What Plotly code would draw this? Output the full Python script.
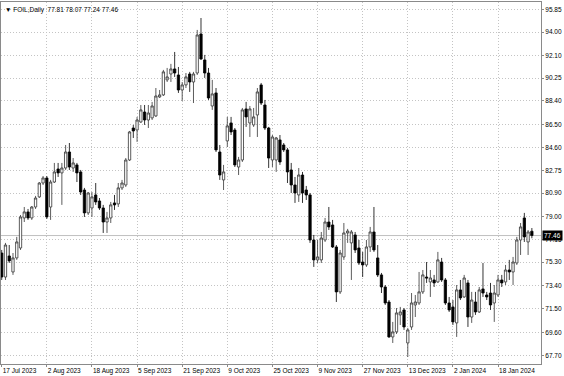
import plotly.graph_objects as go

# ---- data ----
symbol = "FOIL,Daily"

tick_labels = ["17 Jul 2023", "2 Aug 2023", "18 Aug 2023", "5 Sep 2023", "21 Sep 2023",
               "9 Oct 2023", "25 Oct 2023", "9 Nov 2023", "27 Nov 2023", "13 Dec 2023",
               "2 Jan 2024", "18 Jan 2024"]
bars_per_label = 12

price_ticks = [95.85, 94.00, 92.10, 90.25, 88.40, 86.50, 84.60, 82.75, 80.90, 79.00,
               77.15, 75.30, 73.40, 71.50, 69.60, 67.70]

opens = [
    76.04, 74.09, 75.80, 74.50, 75.64, 76.45, 78.89, 79.38, 78.89, 79.78,
    80.60, 81.73, 82.14, 79.78, 81.81, 82.87, 82.55, 82.95, 84.25, 82.95,
    83.20, 82.63, 81.16, 79.30, 79.70, 80.76, 80.27, 79.70, 78.56, 78.89,
    80.11, 80.03, 81.33, 81.57, 83.60, 86.20, 86.04, 86.69, 87.50, 86.85,
    87.02, 87.18, 88.72, 88.89, 90.11, 90.59, 91.00, 90.51, 89.29, 89.70,
    90.59, 89.94, 90.67, 93.84, 91.73, 90.67, 87.99, 89.05, 84.25, 81.98,
    85.15, 86.61, 86.04, 83.03, 83.60, 87.75, 86.61, 86.45, 87.26, 89.70,
    88.07, 86.20, 83.60, 83.60, 85.23, 84.82, 84.42, 82.79, 81.57, 80.76,
    82.38, 81.16, 80.76, 77.10, 75.48, 75.48, 77.10, 78.56, 78.32, 76.53,
    72.88, 75.72, 77.67, 76.86, 77.51, 76.45, 75.31, 75.07, 76.53, 77.75,
    75.64, 74.26, 73.28, 72.06, 69.22, 69.63, 71.01, 71.41, 68.73, 70.03,
    71.82, 71.98, 72.88, 74.09, 73.69, 73.85, 73.69, 75.31, 73.85, 71.98,
    71.66, 70.36, 73.04, 72.47, 73.61, 70.84, 72.06, 71.25, 73.12, 72.63,
    72.79, 71.98, 72.63, 73.85, 73.69, 74.66, 74.50, 75.23, 77.10, 78.89,
    76.94, 77.81]

highs = [
    76.29, 76.86, 76.69, 76.04, 77.35, 79.13, 79.78, 79.62, 79.86, 80.68,
    81.81, 82.30, 82.30, 81.98, 83.36, 83.36, 83.36, 84.82, 84.98, 83.76,
    83.36, 82.79, 81.33, 81.00, 81.00, 81.73, 80.51, 79.95, 79.38, 80.19,
    80.76, 81.73, 81.98, 83.76, 85.96, 86.45, 87.10, 88.07, 88.07, 88.07,
    88.32, 89.45, 89.29, 90.92, 91.08, 91.41, 92.38, 91.16, 89.94, 90.67,
    90.76, 90.76, 94.17, 95.14, 92.14, 91.08, 90.11, 89.45, 84.82, 83.20,
    87.10, 87.10, 86.20, 83.85, 87.83, 88.32, 87.99, 87.83, 89.45, 89.86,
    88.48, 86.29, 85.63, 85.47, 85.63, 84.98, 84.58, 83.36, 82.22, 82.95,
    82.63, 81.49, 80.92, 77.51, 77.10, 77.75, 78.89, 79.78, 78.73, 76.69,
    76.29, 78.48, 78.00, 77.91, 77.75, 77.10, 76.13, 77.10, 78.16, 79.78,
    76.69, 74.42, 73.44, 72.22, 70.44, 71.57, 71.66, 71.57, 69.95, 72.79,
    72.63, 74.50, 74.66, 75.31, 74.66, 74.26, 76.13, 75.64, 74.01, 72.47,
    72.22, 73.44, 73.85, 74.26, 73.85, 72.88, 72.88, 73.28, 75.23, 72.88,
    73.61, 73.44, 74.26, 74.26, 75.07, 75.48, 75.72, 77.35, 78.48, 79.30,
    77.91, 78.07]

lows = [
    73.85, 73.85, 75.23, 74.26, 75.48, 76.29, 78.56, 78.73, 78.73, 79.62,
    80.51, 81.57, 78.81, 78.73, 81.73, 82.22, 79.95, 82.79, 82.79, 82.63,
    81.81, 80.76, 78.97, 79.13, 78.97, 79.95, 79.54, 77.67, 77.67, 78.48,
    79.54, 79.78, 81.16, 81.41, 83.52, 85.39, 85.07, 86.61, 86.45, 86.20,
    86.85, 87.10, 88.64, 88.80, 89.94, 89.94, 90.35, 89.05, 88.40, 89.45,
    89.13, 88.23, 90.51, 91.73, 90.27, 88.48, 87.67, 84.25, 81.98, 81.16,
    84.66, 85.63, 83.03, 82.38, 83.44, 86.29, 85.47, 86.29, 85.47, 88.07,
    86.04, 82.95, 83.03, 82.63, 83.20, 84.25, 81.73, 80.92, 80.11, 80.19,
    80.11, 80.35, 76.86, 74.91, 75.23, 75.23, 76.94, 77.91, 76.45, 72.06,
    72.71, 75.48, 76.86, 73.85, 76.04, 75.07, 74.09, 74.91, 76.13, 76.13,
    74.09, 72.79, 71.82, 69.14, 68.73, 69.46, 70.19, 69.79, 67.59, 69.79,
    70.84, 71.82, 72.71, 73.61, 72.47, 73.28, 73.61, 73.69, 71.82, 71.25,
    70.19, 69.22, 72.22, 72.39, 70.03, 70.36, 71.01, 71.17, 72.47, 72.22,
    71.41, 70.44, 72.47, 73.28, 73.44, 73.85, 73.44, 75.07, 75.88, 76.94,
    75.88, 77.24]

closes = [
    74.09, 76.69, 75.40, 75.64, 76.94, 78.97, 79.38, 78.89, 79.78, 80.51,
    81.73, 82.14, 78.97, 81.81, 82.63, 82.55, 82.95, 84.25, 83.03, 83.36,
    82.55, 81.00, 79.30, 80.92, 80.60, 80.19, 79.70, 78.56, 78.89, 79.95,
    79.95, 81.33, 81.73, 83.60, 85.88, 85.96, 86.85, 87.67, 86.85, 87.42,
    87.99, 88.80, 88.89, 90.76, 90.35, 91.00, 90.67, 89.29, 89.70, 90.35,
    89.94, 90.59, 93.76, 91.81, 90.67, 88.64, 88.97, 84.42, 82.38, 82.63,
    86.37, 85.88, 83.20, 83.60, 87.67, 87.10, 87.75, 87.10, 89.13, 88.23,
    86.20, 83.76, 85.47, 85.39, 83.44, 84.42, 82.63, 81.57, 80.92, 82.38,
    80.92, 80.76, 77.10, 75.48, 75.72, 77.26, 78.56, 78.16, 76.53, 72.88,
    76.04, 77.67, 77.83, 77.75, 76.29, 75.23, 75.07, 76.53, 77.75, 76.29,
    74.26, 73.28, 71.98, 69.22, 69.63, 71.17, 71.25, 70.03, 69.79, 71.98,
    72.06, 72.88, 74.26, 74.01, 74.01, 73.61, 75.48, 73.85, 71.98, 71.41,
    70.44, 73.04, 72.39, 74.01, 70.84, 72.22, 71.25, 73.04, 72.79, 72.47,
    71.82, 72.79, 73.85, 73.61, 74.66, 74.50, 75.31, 77.10, 78.16, 77.35,
    77.75, 77.46]

n = len(opens)
assert len(highs) == n and len(lows) == n and len(closes) == n
bars = list(range(n))
tick_bars = [i * bars_per_label for i in range(len(tick_labels))]

FONT = "Liberation Sans, Arial, sans-serif"
GRID = "#c4c4c4"
GRID_DASH = "1px,2px"
FRAME = "#8a8a8a"
FS = 6.5

fig = go.Figure()
fig.add_trace(go.Candlestick(
    x=bars, open=opens, high=highs, low=lows, close=closes,
    increasing=dict(line=dict(color="#333333", width=0.8), fillcolor="white"),
    decreasing=dict(line=dict(color="black", width=0.8), fillcolor="black"),
    whiskerwidth=0, hoverinfo="skip", showlegend=False,
))

# bid line + price label
last = closes[-1]
fig.add_hline(y=last, line=dict(color="#c0c0c0", width=1), layer="below")
fig.add_annotation(x=1, xref="paper", y=last, yref="y", xanchor="left", yanchor="middle",
                   text=f"{last:.2f}", showarrow=False, bgcolor="black",
                   font=dict(family=FONT, size=FS, color="white"), borderpad=1, xshift=1)

# header text
fig.add_annotation(x=0, xref="paper", y=1, yref="paper", xanchor="left", yanchor="top",
                   text=f"\u25bc {symbol}  {opens[-1]:.2f} {highs[-1]:.2f} {lows[-1]:.2f} {closes[-1]:.2f}",
                   showarrow=False, font=dict(family=FONT, size=FS, color="black"),
                   xshift=2, yshift=-2)

fig.update_layout(
    width=564, height=376,
    margin=dict(l=1, r=23, t=2, b=12, autoexpand=False),
    paper_bgcolor="white", plot_bgcolor="white",
    showlegend=False, boxgap=0.12,
    xaxis=dict(
        range=[-0.19, 143.43], rangeslider=dict(visible=False),
        tickmode="array", tickvals=tick_bars, ticktext=tick_labels,
        tickangle=0, automargin=False,
        showgrid=True, gridcolor=GRID, griddash=GRID_DASH, gridwidth=1,
        ticks="outside", ticklen=2, tickcolor=FRAME,
        ticklabelposition="outside right",
        tickfont=dict(family=FONT, size=FS, color="black"),
        showline=True, linecolor=FRAME, linewidth=1, mirror=True, zeroline=False,
    ),
    yaxis=dict(
        side="right", range=[67.02, 96.44], automargin=False,
        tickmode="array", tickvals=price_ticks, ticktext=[f"{v:.2f}" for v in price_ticks],
        showgrid=True, gridcolor=GRID, griddash=GRID_DASH, gridwidth=1,
        ticks="outside", ticklen=2, tickcolor=FRAME,
        tickfont=dict(family=FONT, size=FS, color="black"),
        showline=True, linecolor=FRAME, linewidth=1, mirror=True, zeroline=False,
    ),
)

fig.write_html("out.html")
